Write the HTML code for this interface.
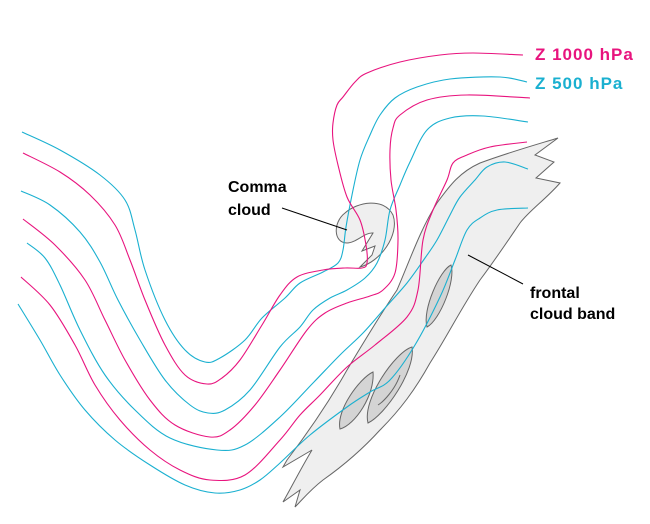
<!DOCTYPE html>
<html><head><meta charset="utf-8"><style>
html,body{margin:0;padding:0;background:#fff;width:650px;height:524px;overflow:hidden}
svg{display:block}
text{font-family:"Liberation Sans",Arial,sans-serif;font-size:16px;font-weight:bold}
.z{font-size:17px;letter-spacing:1px}
</style></head><body>
<svg id="s" width="650" height="524" viewBox="0 0 650 524" xmlns="http://www.w3.org/2000/svg">
<path d="M558,138 L535,155 L554,162 L536,178 L560,183 C545,200 530,210 520,223 C505,245 495,260 480,280 C460,310 448,335 430,363 C415,390 400,410 380,430 C360,452 340,468 323,480 C310,490 302,500 295,507 L300,490 L283,502 C290,490 300,470 312,450 L283,467 L287,460 C310,430 330,400 347,370 C365,340 380,315 397,290 C410,260 420,230 437,203 C450,185 460,172 480,163 C510,152 535,145 558,138 Z" fill="#efefef" stroke="#666" stroke-width="1"/>
<path d="M451,265 C456,280 440,320 427,327 C422,310 440,270 451,265 Z" fill="#d4d4d4" stroke="#666" stroke-width="1"/>
<path d="M412,347 C416,370 385,415 368,423 C362,400 395,352 412,347 Z" fill="#d4d4d4" stroke="#666" stroke-width="1"/>
<path d="M400,375 C395,390 383,402 378,405" fill="none" stroke="#666" stroke-width="1"/>
<path d="M373,372 C375,395 355,425 340,429 C336,410 360,378 373,372 Z" fill="#d4d4d4" stroke="#666" stroke-width="1"/>
<path d="M347,243 C333,243 333,222 345,213 C357,202 384,197 393,215 C400,235 380,262 360,267 L372,255 L375,246 L362,251 L373,233 C365,232 356,243 347,243 Z" fill="#efefef" stroke="#666" stroke-width="1"/>
<g fill="none" stroke-width="1.1" stroke-linejoin="round">
<polyline stroke="#1ab0d0" points="22,132 60,150 100,175 125,200 135,230 145,270 165,320 185,350 205,362 220,358 245,340 262,318 285,298 300,283 323,272 338,263 343,250 346,227 352,195 360,160 370,135 380,115 395,98 417,87 450,79 500,77 527,82"/>
<polyline stroke="#e8147e" points="23,153 60,172 90,195 115,225 130,260 145,300 165,345 185,375 207,384 222,378 240,360 262,325 280,295 297,277 323,270 345,268 362,268 367,263 366,245 360,220 347,197 338,165 333,140 333,123 337,105 343,97 355,82 367,73 400,62 440,55 473,53 523,55"/>
<polyline stroke="#1ab0d0" points="21,191 50,205 80,232 100,262 118,300 140,340 165,380 190,405 208,413 225,410 250,390 280,347 300,327 313,310 330,298 347,290 365,278 377,263 385,240 390,210 400,185 410,162 427,130 450,118 483,116 528,122"/>
<polyline stroke="#e8147e" points="23,219 55,245 85,280 105,320 125,360 150,400 175,425 210,437 230,430 255,405 280,370 307,330 325,313 347,303 370,296 383,290 395,273 398,240 396,210 391,180 390,150 393,128 400,115 427,100 467,95 530,98"/>
<polyline stroke="#1ab0d0" points="27,243 45,258 60,285 80,330 105,375 135,410 170,438 217,450 245,445 280,417 313,383 340,355 363,333 385,308 407,283 425,258 437,240 450,215 460,197 475,180 487,167 505,162 528,169"/>
<polyline stroke="#e8147e" points="21,277 50,305 75,345 95,385 120,420 150,450 180,470 210,480 245,475 280,440 300,415 320,395 347,367 375,345 407,317 418,290 423,240 433,210 447,180 453,163 467,155 490,147 527,142"/>
<polyline stroke="#1ab0d0" points="18,304 40,340 60,375 85,410 115,440 150,465 185,485 215,493 240,490 260,480 280,463 310,435 347,407 370,392 390,380 415,345 440,297 455,260 467,230 480,218 497,210 528,208"/>
</g>
<line x1="282" y1="208" x2="347" y2="230" stroke="#000" stroke-width="1"/>
<line x1="468" y1="255" x2="523" y2="284" stroke="#000" stroke-width="1"/>
<text x="228" y="192" fill="#000">Comma</text>
<text x="228" y="215" fill="#000">cloud</text>
<text x="530" y="298" fill="#000">frontal</text>
<text x="530" y="319" fill="#000">cloud band</text>
<text class="z" x="535" y="60" fill="#e8147e">Z 1000 hPa</text>
<text class="z" x="535" y="89" fill="#1ab0d0">Z 500 hPa</text>
</svg>
<script>
(function(){
var NS="http://www.w3.org/2000/svg";
var pls=document.querySelectorAll("polyline");
for(var k=0;k<pls.length;k++){
var pl=pls[k];var nums=pl.getAttribute("points").trim().split(/[\s,]+/).map(Number);
var p=[];for(var i=0;i<nums.length;i+=2)p.push([nums[i],nums[i+1]]);
var d="M"+p[0][0]+","+p[0][1];
for(var i=0;i<p.length-1;i++){
var p0=p[i-1]||p[i],p1=p[i],p2=p[i+1],p3=p[i+2]||p2;
var c1x=p1[0]+(p2[0]-p0[0])/6,c1y=p1[1]+(p2[1]-p0[1])/6;
var c2x=p2[0]-(p3[0]-p1[0])/6,c2y=p2[1]-(p3[1]-p1[1])/6;
d+=" C"+c1x.toFixed(1)+","+c1y.toFixed(1)+" "+c2x.toFixed(1)+","+c2y.toFixed(1)+" "+p2[0]+","+p2[1];}
var path=document.createElementNS(NS,"path");path.setAttribute("d",d);
path.setAttribute("stroke",pl.getAttribute("stroke"));
pl.parentNode.replaceChild(path,pl);}
})();
</script>
</body></html>
